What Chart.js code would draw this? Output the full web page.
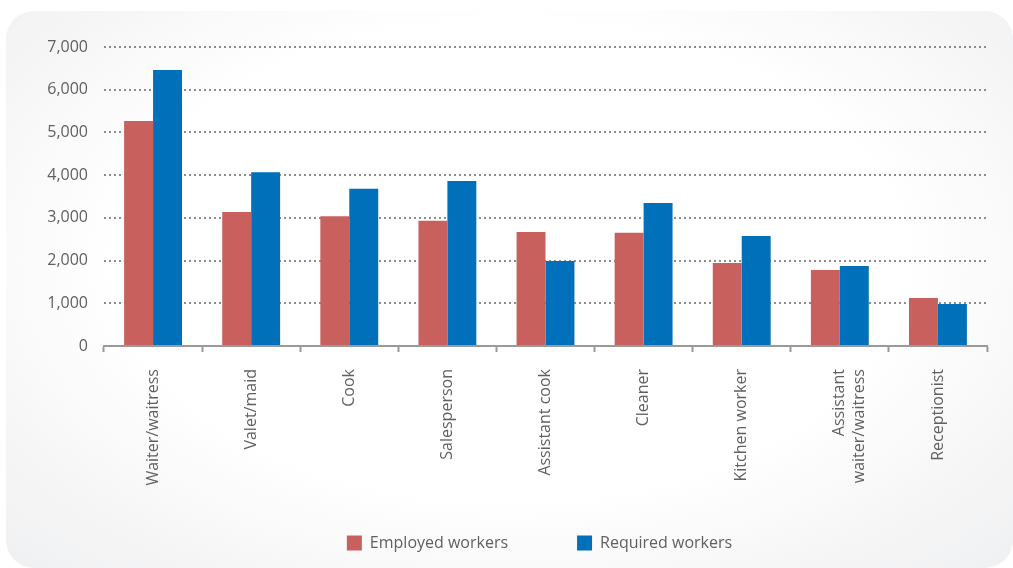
<!DOCTYPE html>
<html>
<head>
    <title>Employed vs required workers</title>
    <script src="https://cdn.jsdelivr.net/npm/chart.js"></script>
    <style>
        html, body { margin: 0; padding: 0; background: #fff; }
        body { width: 1013px; height: 568px; position: relative; overflow: hidden; font-family: "Open Sans", Arial, sans-serif; }
        .card {
            position: absolute; left: 6px; top: 11px; width: 1007px; height: 557px;
            border-radius: 28px;
            background: radial-gradient(ellipse at 50% 45%, #ffffff 55%, #f6f6f7 80%, #eff0f1 100%);
        }
        .wrap { position: absolute; left: 0; top: 0; width: 1013px; height: 568px; }
    </style>
</head>
<body>
    <div class="card"></div>
    <div class="wrap">
        <canvas id="workersChart" width="1013" height="568"></canvas>
    </div>

    <script>
        // Data
        const categories = [
            'Waiter/waitress', 'Valet/maid', 'Cook', 'Salesperson', 'Assistant cook',
            'Cleaner', 'Kitchen worker', ['Assistant', 'waiter/waitress'], 'Receptionist'
        ];
        const employedWorkers = [5270, 3140, 3040, 2930, 2670, 2650, 1945, 1780, 1125];
        const requiredWorkers = [6460, 4070, 3680, 3860, 1990, 3350, 2575, 1875, 985];
        const seriesNames = ['Employed workers', 'Required workers'];
        const yTicks = [0, 1000, 2000, 3000, 4000, 5000, 6000, 7000];

        const textColor = '#606060';
        const axisGray = '#9a9a9a';
        const labelFont = { family: '"Open Sans", Arial, sans-serif', size: 16 };
        const legendGap = 69;   // horizontal gap between legend items

        // legend items sit lower than their box top would put them; keep the
        // wide horizontal gap without giving the legend a tall box
        const legendShift = {
            id: 'legendShift',
            afterLayout(chart) {
                const lg = chart.legend;
                lg.top = 535 - legendGap;
                lg.left -= 6;
                lg.right -= 6;
            }
        };

        new Chart(document.getElementById('workersChart'), {
            type: 'bar',
            data: {
                labels: categories,
                datasets: [{
                    label: seriesNames[0],
                    data: employedWorkers,
                    backgroundColor: '#c8605e'
                }, {
                    label: seriesNames[1],
                    data: requiredWorkers,
                    backgroundColor: '#0070ba'
                }]
            },
            plugins: [legendShift],
            options: {
                responsive: false,
                animation: false,
                layout: { padding: { left: 0, right: 26, top: 47, bottom: 7 } },
                categoryPercentage: 0.59,
                barPercentage: 1.0,
                plugins: {
                    tooltip: { enabled: false },
                    legend: {
                        position: 'bottom',
                        fullSize: false,
                        maxHeight: 40,
                        labels: {
                            boxWidth: 15,
                            boxHeight: 15,
                            padding: legendGap,
                            color: textColor,
                            font: labelFont
                        }
                    }
                },
                scales: {
                    x: {
                        grid: {
                            drawOnChartArea: false,
                            drawTicks: true,
                            tickLength: 6,
                            tickWidth: 2,
                            tickColor: axisGray
                        },
                        border: { display: true, color: axisGray, width: 2 },
                        ticks: {
                            minRotation: 90,
                            maxRotation: 90,
                            padding: 17,
                            color: textColor,
                            font: labelFont
                        },
                        afterFit(scale) { scale.height = 175; }
                    },
                    y: {
                        min: 0,
                        max: 7000,
                        afterBuildTicks(scale) { scale.ticks = yTicks.map(v => ({ value: v })); },
                        grid: {
                            color: ctx => ctx.tick.value === 0 ? 'rgba(0,0,0,0)' : '#8c8c8c',
                            lineWidth: 2,
                            drawTicks: false
                        },
                        border: { display: false, dash: [2, 3] },
                        ticks: {
                            padding: 16,
                            color: textColor,
                            font: labelFont,
                            callback: v => v.toLocaleString('en-US')
                        },
                        afterFit(scale) { scale.width = 104; }
                    }
                }
            }
        });
    </script>
</body>
</html>
